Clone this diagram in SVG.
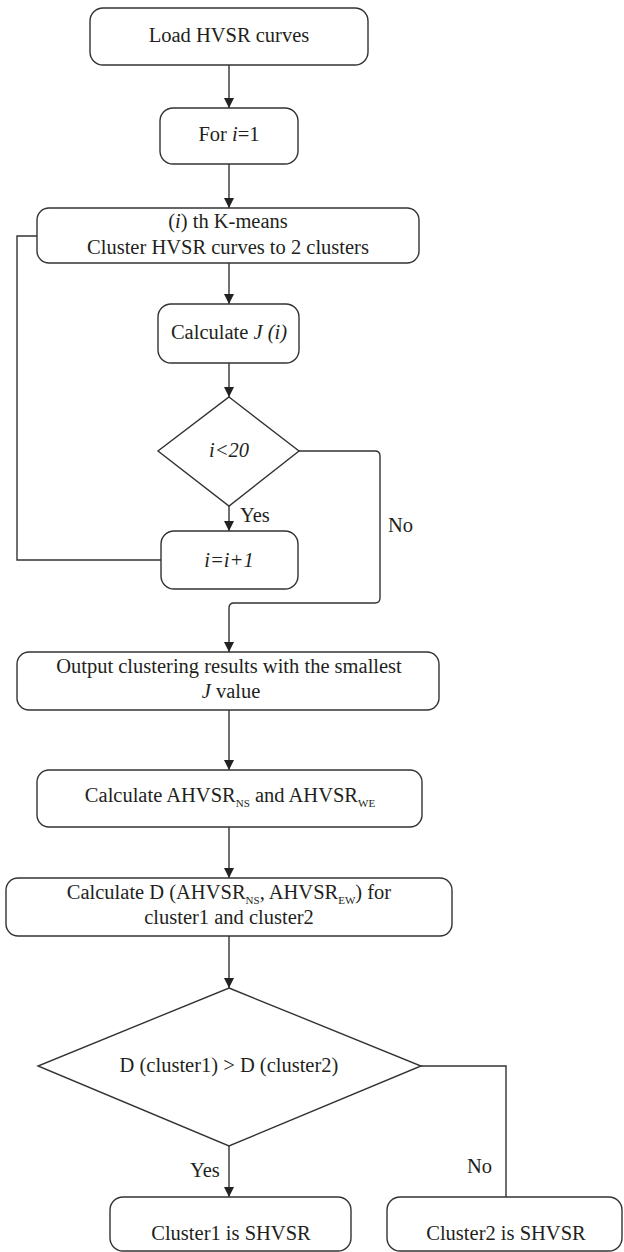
<svg xmlns="http://www.w3.org/2000/svg" width="624" height="1252" viewBox="0 0 624 1252" font-family="'Liberation Serif', 'Times New Roman', serif">
<style>
.box{fill:#fff;stroke:#333;stroke-width:1.4}
.ln{fill:none;stroke:#333;stroke-width:1.4}
text{font-family:'Liberation Serif','Times New Roman',serif;font-size:20.5px;fill:#231f20;text-anchor:middle}
.it{font-style:italic}
.sub{font-size:11px}
.lbl{text-anchor:start}
</style>
<defs>
<marker id="ah" markerUnits="userSpaceOnUse" markerWidth="11" markerHeight="11" refX="10" refY="5" orient="auto">
<path d="M0,0 L10,5 L0,10 z" fill="#222"/>
</marker>
</defs>
<rect width="624" height="1252" fill="#fff"/>
<g id="connectors">
<path class="ln" d="M229,65 V108" marker-end="url(#ah)"/>
<path class="ln" d="M229,164 V208" marker-end="url(#ah)"/>
<path class="ln" d="M229,263 V304" marker-end="url(#ah)"/>
<path class="ln" d="M229,363 V397" marker-end="url(#ah)"/>
<path class="ln" d="M229,506 V531" marker-end="url(#ah)"/>
<path class="ln" d="M161,560 H17 V236 H37"/>
<path class="ln" d="M299,451 H375 Q380,451 380,456 V598 Q380,603 375,603 H234 Q229,603 229,608 V652" marker-end="url(#ah)"/>
<path class="ln" d="M229,710 V770" marker-end="url(#ah)"/>
<path class="ln" d="M229,827 V878" marker-end="url(#ah)"/>
<path class="ln" d="M229,936 V988" marker-end="url(#ah)"/>
<path class="ln" d="M229,1146 V1197" marker-end="url(#ah)"/>
<path class="ln" d="M421,1066 H506 V1197"/>
<text class="lbl" x="240" y="522">Yes</text>
<text class="lbl" x="388" y="532">No</text>
<text class="lbl" x="190" y="1177">Yes</text>
<text class="lbl" x="467" y="1173">No</text>
</g>
<g id="load">
<rect class="box" x="90" y="8" width="278" height="57" rx="13"/>
<text x="229" y="42">Load HVSR curves</text>
</g>
<g id="init">
<rect class="box" x="160" y="108" width="138" height="56" rx="13"/>
<text x="229" y="141">For <tspan class="it">i</tspan>=1</text>
</g>
<g id="kmeans">
<rect class="box" x="37" y="208" width="382" height="55" rx="12"/>
<text x="228" y="228">(<tspan class="it">i</tspan>) th K-means</text>
<text x="228" y="254">Cluster HVSR curves to 2 clusters</text>
</g>
<g id="calcJ">
<rect class="box" x="158" y="304" width="141" height="59" rx="13"/>
<text x="229" y="339">Calculate <tspan class="it">J (i)</tspan></text>
</g>
<g id="cond1">
<polygon class="box" points="229,397 299,451 229,506 158,451"/>
<text class="it" x="229" y="457">i&lt;20</text>
</g>
<g id="inc">
<rect class="box" x="161" y="531" width="137" height="58" rx="13"/>
<text class="it" x="229" y="567">i=i+1</text>
</g>
<g id="output">
<rect class="box" x="17" y="652" width="422" height="58" rx="12"/>
<text x="229" y="673">Output clustering results with the smallest</text>
<text x="231" y="698"><tspan class="it">J</tspan> value</text>
</g>
<g id="ahvsr">
<rect class="box" x="37" y="770" width="385" height="57" rx="12"/>
<text x="230" y="802">Calculate AHVSR<tspan class="sub" dy="5">NS</tspan><tspan dy="-5"> and AHVSR</tspan><tspan class="sub" dy="5">WE</tspan></text>
</g>
<g id="dcalc">
<rect class="box" x="6" y="878" width="446" height="58" rx="12"/>
<text x="229" y="899">Calculate D (AHVSR<tspan class="sub" dy="5">NS</tspan><tspan dy="-5">, AHVSR</tspan><tspan class="sub" dy="5">EW</tspan><tspan dy="-5">) for</tspan></text>
<text x="229" y="924">cluster1 and cluster2</text>
</g>
<g id="cond2">
<polygon class="box" points="229,988 421,1066 229,1146 38,1066"/>
<text x="229" y="1072">D (cluster1) &gt; D (cluster2)</text>
</g>
<g id="c1">
<rect class="box" x="110" y="1197" width="241" height="54" rx="13"/>
<text x="231" y="1240">Cluster1 is SHVSR</text>
</g>
<g id="c2">
<rect class="box" x="387" y="1197" width="235" height="54" rx="13"/>
<text x="506" y="1240">Cluster2 is SHVSR</text>
</g>
</svg>
